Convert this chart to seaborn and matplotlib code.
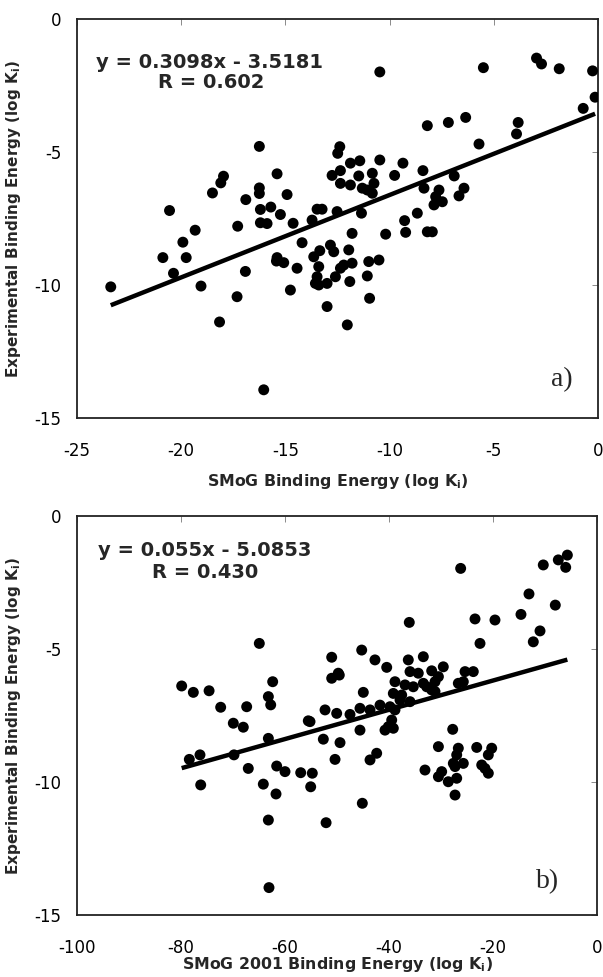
import numpy as np
import pandas as pd
import matplotlib
matplotlib.use("Agg")
import matplotlib.pyplot as plt
import seaborn as sns

# ---------------- data: panel a) SMoG ----------------
smog_x = [-16.25, -17.97, -18.1, -18.5, -15.4, -16.25, -16.25, -14.92, -16.9, -20.56,
          -16.2, -15.7, -15.24, -12.39, -12.49, -11.88, -11.43, -10.47, -9.36, -8.4,
          -9.76, -12.36, -12.76, -11.48, -10.83, -12.36, -11.88, -10.75, -11.31, -11.07,
          -10.83, -8.35, -5.71, -6.9, -6.43, -6.67, -7.63, -7.79, -7.87, -7.47,
          -8.67, -9.28, -9.23, -8.19, -7.95, -10.19, -11.35, -12.52, -13.48, -13.24,
          -13.72, -14.63, -11.8, -14.2, -12.84, -12.68, -13.35, -13.64, -11.96, -14.44,
          -13.4, -13.48, -13.56, -13.4, -13.0, -12.6, -12.36, -12.2, -11.8, -11.0,
          -10.51, -11.07, -11.91, -14.76, -10.96, -13.0, -12.03, -10.47, -5.5, -2.95,
          -2.71, -1.86, -0.26, -0.14, -0.71, -8.19, -7.18, -6.35, -3.83, -3.91,
          -19.33, -17.29, -16.2, -15.88, -19.92, -20.88, -19.76, -20.37, -23.38, -19.05,
          -17.32, -16.92, -18.16, -16.04, -15.4, -15.08, -15.43]
smog_y = [-4.79, -5.91, -6.16, -6.54, -5.82, -6.35, -6.56, -6.6, -6.79, -7.2,
          -7.16, -7.07, -7.35, -4.8, -5.05, -5.42, -5.33, -5.3, -5.42, -5.7,
          -5.88, -5.7, -5.88, -5.9, -5.8, -6.18, -6.24, -6.18, -6.36, -6.43,
          -6.55, -6.36, -4.7, -5.9, -6.36, -6.65, -6.43, -6.68, -6.99, -6.87,
          -7.3, -7.58, -8.02, -8.0, -8.0, -8.09, -7.3, -7.24, -7.15, -7.15,
          -7.56, -7.68, -8.06, -8.41, -8.5, -8.75, -8.71, -8.94, -8.68, -9.37,
          -9.31, -9.69, -9.94, -10.0, -9.94, -9.69, -9.37, -9.25, -9.18, -9.12,
          -9.06, -9.66, -9.87, -10.19, -10.5, -10.81, -11.5, -1.99, -1.83, -1.47,
          -1.69, -1.87, -1.95, -2.94, -3.36, -4.01, -3.89, -3.70, -3.89, -4.32,
          -7.94, -7.79, -7.66, -7.69, -8.39, -8.97, -8.97, -9.56, -10.07, -10.04,
          -10.44, -9.49, -11.39, -13.94, -8.97, -9.16, -9.1]
fit_a = (0.3098, -3.5181)
r_a = "0.602"

# ---------------- data: panel b) SMoG 2001 ----------------
smog01_x = [-64.94, -79.87, -77.63, -74.6, -72.37, -67.37, -62.37, -63.2, -62.75, -51.02,
            -51.02, -49.75, -52.3, -50.06, -26.22, -10.33, -7.44, -5.7, -6.02, -13.08,
            -8.02, -14.62, -10.96, -12.25, -23.46, -19.62, -22.5, -36.1, -45.25, -42.7,
            -40.44, -36.29, -33.4, -35.96, -34.37, -31.79, -29.56, -38.85, -36.92, -35.33,
            -33.4, -32.75, -31.15, -30.5, -25.38, -23.79, -26.67, -25.71, -31.79, -31.15,
            -39.17, -37.56, -37.88, -35.96, -43.65, -41.73, -39.81, -38.85, -44.94, -45.58,
            -47.5, -49.56, -69.94, -68.02, -63.2, -55.52, -55.19, -52.63, -49.42, -50.38,
            -78.4, -76.35, -69.81, -67.06, -61.6, -60.0, -56.98, -54.75, -55.06, -76.21,
            -64.17, -61.73, -63.2, -52.1, -63.08, -39.48, -40.13, -40.77, -39.17, -45.58,
            -42.37, -43.65, -45.13, -27.75, -30.5, -26.67, -26.98, -27.63, -25.71, -23.13,
            -20.25, -20.9, -22.17, -21.54, -20.9, -33.08, -30.5, -29.87, -28.6, -26.98,
            -27.3, -27.3]
smog01_y = [-4.79, -6.39, -6.63, -6.57, -7.19, -7.17, -6.23, -6.79, -7.1, -5.31,
            -6.1, -5.91, -7.29, -7.42, -1.97, -1.84, -1.65, -1.47, -1.93, -2.93,
            -3.35, -3.7, -4.32, -4.73, -3.87, -3.91, -4.79, -4.0, -5.04, -5.41,
            -5.69, -5.41, -5.29, -5.85, -5.91, -5.82, -5.67, -6.23, -6.35, -6.42,
            -6.29, -6.42, -6.23, -6.04, -5.85, -5.85, -6.29, -6.23, -6.54, -6.6,
            -6.67, -6.73, -6.92, -6.98, -7.29, -7.11, -7.17, -7.29, -6.63, -7.23,
            -7.46, -5.98, -7.79, -7.94, -8.36, -7.7, -7.73, -8.39, -8.52, -9.15,
            -9.15, -8.98, -8.98, -9.49, -9.4, -9.61, -9.65, -9.67, -10.18, -10.11,
            -10.08, -10.45, -11.43, -11.53, -13.97, -7.67, -7.92, -8.05, -7.98, -8.05,
            -8.92, -9.17, -10.8, -8.02, -8.67, -8.73, -8.98, -9.3, -9.3, -8.7,
            -8.73, -8.98, -9.36, -9.49, -9.67, -9.55, -9.8, -9.61, -9.99, -9.86,
            -9.42, -10.49]
fit_b = (0.055, -5.0853)
r_b = "0.430"

xticks_a = [-25, -20, -15, -10, -5, 0]
xticks_b = [-100, -80, -60, -40, -20, 0]
yticks = [-15, -10, -5, 0]

# ---------------- style ----------------
sns.set_theme(style="white")
plt.rcParams["font.family"] = ["DejaVu Sans"]
plt.rcParams["mathtext.fontset"] = "dejavusans"

fig = plt.figure(figsize=(6.03, 9.77), dpi=100)
W, H = 603, 977
def rect(l, t, r, b):
    return [l / W, 1 - b / H, (r - l) / W, (b - t) / H]

ax_a = fig.add_axes(rect(77, 19, 598, 418))
ax_b = fig.add_axes(rect(77, 516, 597, 915))


def draw(ax, xs, ys, fit, r, xlim, xticks, xlabel, eq, tag, eq_pos, r_pos, xlab_y):
    df = pd.DataFrame({"x": xs, "y": ys})
    sns.scatterplot(data=df, x="x", y="y", ax=ax, color="black", s=62,
                    edgecolor="none", linewidth=0, zorder=3)
    m, c = fit
    xl = np.array([df["x"].min(), df["x"].max()])
    line = pd.DataFrame({"x": xl, "y": m * xl + c})
    sns.lineplot(data=line, x="x", y="y", ax=ax, color="black", lw=3.2,
                 zorder=4, solid_capstyle="butt")
    ax.set_xlim(*xlim)
    ax.set_ylim(-15, 0)
    ax.set_xticks(xticks)
    ax.set_yticks(yticks)
    ax.set_xticklabels([str(t) for t in xticks])
    ax.set_yticklabels([str(t) for t in yticks])
    ax.tick_params(axis="x", which="major", bottom=False, top=True,
                   labelbottom=True, labeltop=False, direction="in",
                   length=4, width=0.6, color="#777777", pad=17,
                   labelsize=12, labelcolor="black")
    ax.tick_params(axis="y", which="major", left=False, right=True,
                   labelleft=True, labelright=False, direction="in",
                   length=4, width=0.6, color="#777777", pad=11,
                   labelsize=12, labelcolor="black")
    for sp in ax.spines.values():
        sp.set_visible(True)
        sp.set_color("#222222")
        sp.set_linewidth(1.3)
    ax.set_xlabel(xlabel, fontsize=11.3, fontweight="bold")
    ax.set_ylabel(r"Experimental Binding Energy (log K$_{\mathbf{i}}$)",
                  fontsize=11, fontweight="bold")
    ax.xaxis.set_label_coords(0.5, xlab_y)
    ax.yaxis.set_label_coords(-0.104, 0.5)
    ax.text(eq_pos[0], eq_pos[1], eq, transform=ax.transAxes, ha="center",
            va="center", fontsize=14, fontweight="bold")
    ax.text(r_pos[0], r_pos[1], "R = " + r, transform=ax.transAxes,
            ha="center", va="center", fontsize=14, fontweight="bold")
    ax.text(tag[1][0], tag[1][1], tag[0], transform=ax.transAxes,
            ha="center", va="center", fontsize=20,
            family=["Liberation Serif", "DejaVu Serif"])
    ax.set_facecolor("white")


draw(ax_a, smog_x, smog_y, fit_a, r_a, (-25, 0), xticks_a,
     r"SMoG Binding Energy (log K$_{\mathbf{i}}$)",
     "y = 0.3098x - 3.5181", ("a)", (0.93, 0.095)),
     ((210 - 77) / 521, 1 - (62 - 19) / 399), ((211 - 77) / 521, 1 - (83 - 19) / 399),
     -(472 - 418) / 399)
draw(ax_b, smog01_x, smog01_y, fit_b, r_b, (-100, 0), xticks_b,
     r"SMoG 2001 Binding Energy (log K$_{\mathbf{i}}$)",
     "y = 0.055x - 5.0853", ("b)", (0.905, 0.083)),
     ((205 - 77) / 520, 1 - (550 - 516) / 399), ((205 - 77) / 520, 1 - (573 - 516) / 399),
     -(955 - 915) / 399)

fig.savefig("out.png", dpi=100, facecolor="white")
